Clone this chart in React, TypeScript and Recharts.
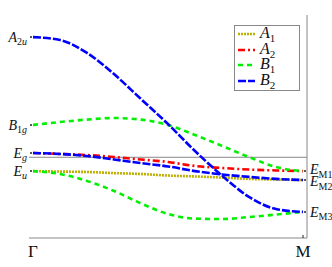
import React from 'react';
import { LineChart, Line, XAxis, YAxis, ReferenceLine, Legend } from 'recharts';

// wave-vector path Γ -> M (fraction of path)
const kPath = [0, 0.1, 0.2, 0.3, 0.4, 0.5, 0.6, 0.7, 0.8, 0.9, 1];
// energies (arbitrary units)
const a1Eu = [30.0, 29.8, 29.6, 29.1, 28.7, 28.0, 27.6, 27.1, 26.5, 26.2, 26.0];
const a2Eg = [38.1, 37.7, 37.2, 36.3, 35.2, 34.1, 32.3, 31.4, 30.7, 30.3, 30.0];
const b1B1g = [50.7, 52.0, 53.1, 53.8, 53.1, 50.7, 46.2, 41.3, 36.3, 31.8, 30.0];
const b1Eu = [30.0, 28.7, 25.6, 21.1, 15.5, 10.8, 8.7, 8.5, 9.4, 10.5, 11.7];
const b2A2u = [90.1, 88.8, 83.0, 73.5, 62.3, 51.1, 39.0, 28.0, 18.4, 13.0, 11.7];
const b2Eg = [38.1, 37.7, 36.8, 35.2, 33.6, 32.1, 30.0, 28.5, 27.4, 26.5, 26.0];

const refLevel = 36.2;
const leftLevels = [90.1, 50.7, 38.1, 30.0];
const leftMain = ['A', 'B', 'E', 'E'];
const leftSub = ['2u', '1g', 'g', 'u'];
const rightLevels = [30.0, 26.0, 11.7];
const rightSub = ['M1', 'M2', 'M3'];
const xTicks = [0, 1];
const xTickLabels = ['Γ', 'M'];
const legendMain = ['A', 'A', 'B', 'B'];
const legendSub = ['1', '2', '1', '2'];

const data = kPath.map((k, i) => ({
  k,
  a1Eu: a1Eu[i],
  a2Eg: a2Eg[i],
  b1B1g: b1B1g[i],
  b1Eu: b1Eu[i],
  b2A2u: b2A2u[i],
  b2Eg: b2Eg[i],
}));

const COLORS = { a1: '#bdb000', a2: '#ff0000', b1: '#00f000', b2: '#0000ff' };
const DASH = { a1: '2 1', a2: '7 3 2 3', b1: '5 4', b2: '8 2' };
const legendKeys = ['a1', 'a2', 'b1', 'b2'] as const;
const SERIF = '"Liberation Serif", "DejaVu Serif", serif';

const LeftTick = (props: any) => {
  const { x, y, payload, index } = props;
  let i = leftLevels.indexOf(payload?.value);
  if (i < 0) i = index;
  if (i == null || i < 0 || i >= leftLevels.length) return null;
  const sub = leftSub[i];
  return (
    <g>
      <line x1={x + 1} x2={x + 3} y1={y} y2={y} stroke="#222" strokeWidth={1.5} />
      <text x={x - 2} y={y} dy="0.33em" textAnchor="end" fontFamily={SERIF} fontSize={14} fill="#111">
        <tspan fontStyle="italic">{leftMain[i]}</tspan>
        {sub.split('').map((c, j) => (
          <tspan key={j} fontSize={10} dy={j === 0 ? 3.5 : 0} fontStyle={/[0-9]/.test(c) ? 'normal' : 'italic'}>
            {c}
          </tspan>
        ))}
      </text>
    </g>
  );
};

const rightOffsets = [-1.5, 1.5, 0];

const RightTick = (props: any) => {
  const { x, y, payload, index } = props;
  let i = rightLevels.indexOf(payload?.value);
  if (i < 0) i = index;
  if (i == null || i < 0 || i >= rightLevels.length) return null;
  return (
    <g>
      <line x1={x - 3} x2={x - 1} y1={y} y2={y} stroke="#222" strokeWidth={1.5} />
      <text x={x + 3} y={y + rightOffsets[i]} dy="0.33em" textAnchor="start" fontFamily={SERIF} fontSize={14} fill="#111">
        <tspan fontStyle="italic">E</tspan>
        <tspan fontSize={10} dy={3.5}>{rightSub[i]}</tspan>
      </text>
    </g>
  );
};

const BottomTick = (props: any) => {
  const { x, y, payload } = props;
  const i = xTicks.indexOf(payload.value);
  if (i < 0) return null;
  return (
    <g>
      {i === 1 && <line x1={x} x2={x} y1={y - 3} y2={y} stroke="#222" strokeWidth={1} />}
      <text x={x} y={y + 13} dy="0.35em" textAnchor="middle" fontFamily={SERIF} fontSize={17} fill="#111">
        {xTickLabels[i]}
      </text>
    </g>
  );
};

const LegendBox = () => (
  <div
    style={{
      position: 'relative',
      boxSizing: 'border-box',
      width: 66,
      height: 66,
      border: '1px solid #888',
      background: '#fff',
    }}
  >
    {legendKeys.map((key, i) => {
      const cy = 8 + i * 15.5;
      return (
        <div key={key} style={{ position: 'absolute', left: 0, top: cy - 8, height: 16, width: 64 }}>
          <svg width={20} height={16} style={{ position: 'absolute', left: 2, top: 0 }}>
            <line x1={1} x2={18} y1={8} y2={8} stroke={COLORS[key]} strokeWidth={2.5} strokeDasharray={DASH[key]} />
          </svg>
          <div
            style={{
              position: 'absolute',
              left: 25,
              top: -2,
              fontFamily: SERIF,
              fontSize: 16,
              lineHeight: '18px',
              color: '#111',
              whiteSpace: 'nowrap',
            }}
          >
            <i>{legendMain[i]}</i>
            <span style={{ fontSize: 11, position: 'relative', top: 4 }}>{legendSub[i]}</span>
          </div>
        </div>
      );
    })}
  </div>
);

export default function App() {
  return (
    <div style={{ position: 'absolute', left: 0, top: 0, width: 332, height: 267 }}>
      <LineChart width={332} height={267} data={data} margin={{ top: 15, right: 0, bottom: 0, left: 0 }}>
        <XAxis
          dataKey="k"
          type="number"
          domain={[0, 1]}
          ticks={xTicks}
          padding={{ left: 4, right: 4 }}
          height={29}
          axisLine={{ stroke: '#888', strokeWidth: 1 }}
          tickLine={false}
          tickSize={0}
          tickMargin={0}
          tick={<BottomTick />}
          interval={0}
        />
        <YAxis
          yAxisId="L"
          orientation="left"
          type="number"
          domain={[0, 100]}
          ticks={leftLevels}
          width={29}
          axisLine={false}
          tickLine={false}
          tickSize={0}
          tickMargin={0}
          tick={(p: any) => <LeftTick {...p} />}
          interval={0}
        />
        <YAxis
          yAxisId="R"
          orientation="right"
          type="number"
          domain={[0, 100]}
          ticks={rightLevels}
          width={25}
          axisLine={{ stroke: '#888', strokeWidth: 1 }}
          tickLine={false}
          tickSize={0}
          tickMargin={0}
          tick={(p: any) => <RightTick {...p} />}
          interval={0}
        />
        <ReferenceLine yAxisId="L" y={refLevel} stroke="#888" strokeWidth={1} />
        <Legend
          layout="vertical"
          align="center"
          verticalAlign="middle"
          wrapperStyle={{ left: 234, top: 25, width: 66, height: 66 }}
          content={() => <LegendBox />}
        />
        <Line yAxisId="L" dataKey="a1Eu" name="A1" type="monotone" stroke={COLORS.a1} strokeWidth={2.6} strokeDasharray={DASH.a1} dot={false} isAnimationActive={false} />
        <Line yAxisId="L" dataKey="a2Eg" name="A2" type="monotone" stroke={COLORS.a2} strokeWidth={2.6} strokeDasharray={DASH.a2} dot={false} isAnimationActive={false} />
        <Line yAxisId="L" dataKey="b1B1g" name="B1" type="monotone" stroke={COLORS.b1} strokeWidth={2.6} strokeDasharray={DASH.b1} dot={false} isAnimationActive={false} />
        <Line yAxisId="R" dataKey="b1Eu" name="B1 " legendType="none" type="monotone" stroke={COLORS.b1} strokeWidth={2.6} strokeDasharray={DASH.b1} dot={false} isAnimationActive={false} />
        <Line yAxisId="R" dataKey="b2A2u" name="B2" type="monotone" stroke={COLORS.b2} strokeWidth={2.6} strokeDasharray={DASH.b2} dot={false} isAnimationActive={false} />
        <Line yAxisId="R" dataKey="b2Eg" name="B2 " legendType="none" type="monotone" stroke={COLORS.b2} strokeWidth={2.6} strokeDasharray={DASH.b2} dot={false} isAnimationActive={false} />
      </LineChart>
    </div>
  );
}
